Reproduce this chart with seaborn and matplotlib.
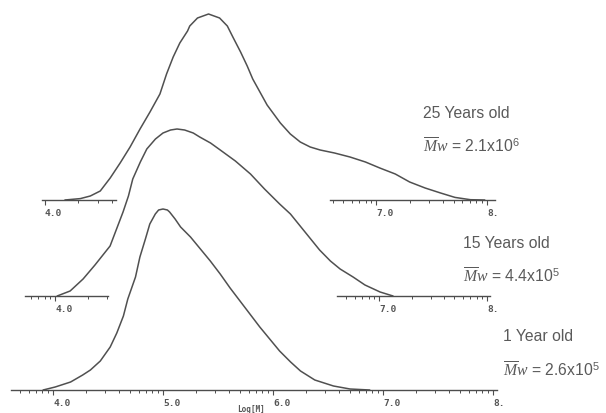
import numpy as np
import pandas as pd
import matplotlib
matplotlib.use('Agg')
import matplotlib.pyplot as plt
import seaborn as sns
from matplotlib.ticker import FixedLocator, FixedFormatter, NullFormatter

sns.set_theme(style='white')
plt.rcParams['font.family'] = ['Liberation Sans', 'DejaVu Sans']
plt.rcParams['mathtext.fontset'] = 'custom'
plt.rcParams['mathtext.rm'] = 'Liberation Sans'
plt.rcParams['mathtext.it'] = 'Liberation Serif:italic'

# ---------------- data (log M vs. detector response, arbitrary units) ----------------
top_logm = [4.18, 4.32, 4.41, 4.50, 4.59, 4.68, 4.77, 4.86, 4.95, 5.04, 5.10, 5.16, 5.22,
            5.29, 5.31, 5.38, 5.48, 5.58, 5.65, 5.70, 5.77, 5.83, 5.88, 5.95, 6.01, 6.13,
            6.22, 6.31, 6.40, 6.49, 6.62, 6.76, 6.90, 7.03, 7.17, 7.30, 7.44, 7.58, 7.71,
            7.85, 7.98]
top_h = [0, 1.4, 4, 9, 22, 37, 53, 71, 88, 106, 126, 143, 157,
         169, 174, 182, 186, 182, 174, 163, 148, 134, 121, 107, 95, 77,
         66, 58, 53, 50, 47, 43, 38, 32, 26, 18, 12, 7, 2.6,
         0.3, 0]

mid_logm = [4.02, 4.14, 4.26, 4.37, 4.51, 4.57, 4.63, 4.68, 4.72, 4.79, 4.85, 4.93, 5.00,
            5.07, 5.13, 5.20, 5.28, 5.34, 5.44, 5.53, 5.67, 5.81, 5.94, 6.08, 6.18, 6.27,
            6.36, 6.45, 6.55, 6.64, 6.76, 6.87, 7.01, 7.13]
mid_h = [0, 5, 17, 31, 50, 67, 84, 100, 117, 134, 147, 157, 163,
         166, 167, 166, 163, 159, 153, 146, 135, 122, 107, 92, 82, 70,
         58, 46, 35, 27, 19, 11, 4, 0]

bot_logm = [3.91, 4.02, 4.16, 4.27, 4.34, 4.43, 4.52, 4.58, 4.64, 4.68, 4.75, 4.79, 4.84,
            4.88, 4.93, 4.96, 5.00, 5.04, 5.06, 5.11, 5.16, 5.25, 5.34, 5.43, 5.52, 5.61,
            5.70, 5.79, 5.88, 5.97, 6.06, 6.16, 6.25, 6.38, 6.55, 6.70, 6.88]
bot_h = [0, 3, 8, 15, 20, 29, 43, 57, 74, 91, 113, 133, 151,
         166, 176, 180, 181, 180, 178, 171, 163, 153, 141, 129, 116, 102,
         89, 76, 63, 51, 39, 28, 19, 10, 4, 1, 0]

major_ticks = [4, 5, 6, 7, 8]
major_labels = ['4.0', '5.0', '6.0', '7.0', '8.']
sample_labels = ['25 Years old', '15 Years old', '1 Year old']
mw_mantissa = ['2.1', '4.4', '2.6']
mw_exponent = ['6', '5', '5']

curves = [(top_logm, top_h), (mid_logm, mid_h), (bot_logm, bot_h)]

# ---------------- layout (pixel based) ----------------
W, H = 606, 414
fig = plt.figure(figsize=(W / 100, H / 100), dpi=100)
fig.patch.set_facecolor('white')

panels = [
    dict(p4=45, s=110.5, base=201, segs=[(3.97, 4.64), (6.58, 8.07)], tx=423, ty=113),
    dict(p4=55, s=108.0, base=297, segs=[(3.72, 4.49), (6.61, 8.03)], tx=463, ty=243),
    dict(p4=53, s=110.0, base=391, segs=[(3.62, 8.04)], tx=503, ty=337),
]

minor_all = [np.log10(k * 10.0 ** d) for d in range(3, 8) for k in range(2, 10)]
ink = '#4d4d4d'

for i, pan in enumerate(panels):
    xlim = (4 + (0 - pan['p4']) / pan['s'], 4 + (W - pan['p4']) / pan['s'])
    ylim = (-(H - pan['base']), pan['base'])
    for j, (lo, hi) in enumerate(pan['segs']):
        ax = fig.add_axes([0, 0, 1, 1])
        ax.set_xlim(*xlim)
        ax.set_ylim(*ylim)
        ax.patch.set_alpha(0)
        for side in ['top', 'left', 'right']:
            ax.spines[side].set_visible(False)
        sp = ax.spines['bottom']
        sp.set_visible(True)
        sp.set_position(('data', 0))
        sp.set_bounds(lo, hi)
        sp.set_color(ink)
        sp.set_linewidth(1.0)
        ax.set_yticks([])
        mj = [t for t in major_ticks if lo - 1e-6 <= t <= hi + 1e-6]
        ml = [major_labels[major_ticks.index(t)] for t in mj]
        mn = [t for t in minor_all if lo <= t <= hi and all(abs(t - m) > 1e-6 for m in major_ticks)]
        ax.xaxis.set_major_locator(FixedLocator(mj))
        ax.xaxis.set_major_formatter(FixedFormatter(ml))
        ax.xaxis.set_minor_locator(FixedLocator(mn))
        ax.xaxis.set_minor_formatter(NullFormatter())
        ax.tick_params(axis='x', which='major', direction='out', length=3.8, width=0.8,
                       color=ink, pad=2.2, labelsize=6.8, labelcolor='#555555', bottom=True)
        ax.tick_params(axis='x', which='minor', direction='out', length=2.4, width=0.7,
                       color=ink, bottom=True)
        for lab in ax.get_xticklabels():
            lab.set_horizontalalignment('left')
            lab.set_fontfamily('DejaVu Sans Mono')
            lab.set_fontweight('bold')
        ax.grid(False)
        if j == 0:
            xs, ys = curves[i]
            df = pd.DataFrame({'logM': xs, 'signal': ys})
            sns.lineplot(data=df, x='logM', y='signal', ax=ax, color='#505050',
                         linewidth=1.1, sort=False, estimator=None)
            ax.set_xlabel('')
            ax.set_ylabel('')
            if i == 2:
                ax.text(5.8, -19, 'Log[M]', fontsize=5.5, family='DejaVu Sans Mono',
                        fontweight='bold', color='#555555', ha='center', va='center')

    fig.text(pan['tx'] / W, 1 - pan['ty'] / H, sample_labels[i], fontsize=11.3,
             color='#5a5a5a', ha='left', va='center')
    fig.text(pan['tx'] / W, 1 - (pan['ty'] + 33) / H,
             r'$\overline{M}w$ = ' + mw_mantissa[i] + r'x10$^{' + mw_exponent[i] + '}$',
             fontsize=11.3, color='#5a5a5a', ha='left', va='center')

fig.savefig('out.png', dpi=100, facecolor='white')
